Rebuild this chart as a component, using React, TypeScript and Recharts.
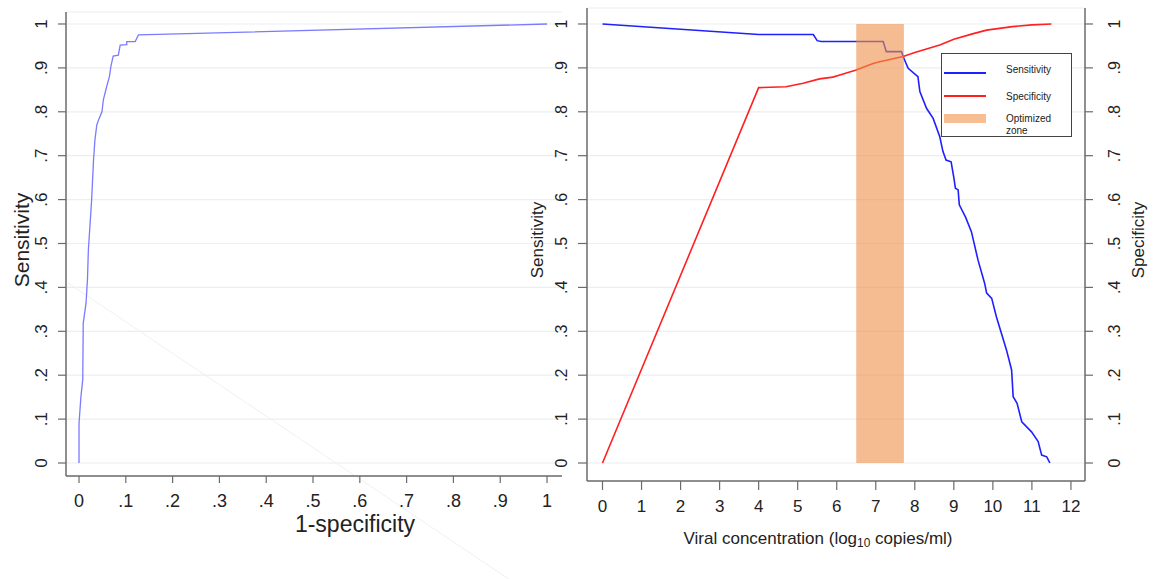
import React from 'react';
import {
  LineChart,
  Line,
  XAxis,
  YAxis,
  CartesianGrid,
  ReferenceArea,
  ReferenceLine,
  Legend,
} from 'recharts';

// ---------- data ----------
// Left panel: ROC curve (1-specificity vs sensitivity)
const rocFpr = [0, 0, 0.004, 0.008, 0.009, 0.015, 0.018, 0.02, 0.027, 0.031, 0.034, 0.038, 0.043, 0.049, 0.052, 0.059, 0.065, 0.068, 0.073, 0.084, 0.088, 0.102, 0.102, 0.12, 0.127, 1];
const rocTpr = [0, 0.09, 0.15, 0.19, 0.318, 0.364, 0.417, 0.485, 0.6, 0.69, 0.736, 0.77, 0.785, 0.8, 0.827, 0.857, 0.88, 0.903, 0.927, 0.929, 0.952, 0.953, 0.96, 0.96, 0.975, 1];

// Right panel: sensitivity and specificity by viral concentration
const sensConc = [0, 4, 5.4, 5.5, 5.6, 7.19, 7.27, 7.66, 7.7, 7.83, 8.08, 8.13, 8.3, 8.47, 8.64, 8.72, 8.8, 8.93, 9.0, 9.04, 9.11, 9.14, 9.3, 9.45, 9.62, 9.79, 9.84, 9.97, 10.09, 10.35, 10.48, 10.52, 10.62, 10.74, 10.99, 11.16, 11.25, 11.38, 11.46];
const sensValues = [1.0, 0.976, 0.976, 0.962, 0.96, 0.96, 0.937, 0.937, 0.926, 0.899, 0.88, 0.846, 0.808, 0.785, 0.743, 0.71, 0.69, 0.686, 0.65, 0.626, 0.622, 0.588, 0.56, 0.527, 0.462, 0.409, 0.387, 0.375, 0.333, 0.257, 0.212, 0.151, 0.136, 0.094, 0.071, 0.049, 0.018, 0.014, 0.0];

const specConc = [0, 4, 4.7, 5.14, 5.56, 5.9, 6.08, 6.5, 6.93, 7.1, 7.7, 8.0, 8.64, 9.0, 9.5, 9.84, 10.5, 11.0, 11.5];
const specValues = [0, 0.855, 0.857, 0.865, 0.875, 0.879, 0.884, 0.895, 0.91, 0.914, 0.926, 0.935, 0.952, 0.965, 0.978, 0.986, 0.994, 0.998, 1.0];

const zoneStart = 6.5;
const zoneEnd = 7.72;

const proportionTicks = [0, 0.1, 0.2, 0.3, 0.4, 0.5, 0.6, 0.7, 0.8, 0.9, 1];
const concTicks = [0, 1, 2, 3, 4, 5, 6, 7, 8, 9, 10, 11, 12];

const seriesNames = ['Sensitivity', 'Specificity', 'Optimized zone'];

// faint diagonal artefact line (data coords of left panel)
const diagX = [-0.0235, 0.94];
const diagY = [0.41, -0.28];

// ---------- derived tables ----------
const rocData = rocFpr.map((x, i) => ({ x, y: rocTpr[i] }));
const sensData = sensConc.map((x, i) => ({ x, y: sensValues[i] }));
const specData = specConc.map((x, i) => ({ x, y: specValues[i] }));

// ---------- styles ----------
const FONT = "'Liberation Sans', Arial, Helvetica, sans-serif";
const AXIS = '#6b6b6b';
const GRID = '#e8f0f0';
const TXT = '#222';
const ROC_COLOR = '#7b7bff';
const SENS_COLOR = '#2020ff';
const SPEC_COLOR = '#ff2020';
const ZONE_FILL = '#ef9049';
const ZONE_SWATCH = '#f6be92';

const fmtProp = (v: number) => {
  if (v === 0) return '0';
  if (v === 1) return '1';
  return '.' + Math.round(v * 10);
};

const makeRotTick = (dx: number, fs: number) => (props: any) => {
  const { x, y, payload } = props;
  const tx = x + dx;
  return (
    <text
      x={tx}
      y={y}
      transform={`rotate(-90 ${tx} ${y})`}
      textAnchor="middle"
      dominantBaseline="central"
      fontSize={fs}
      fill={TXT}
      fontFamily={FONT}
    >
      {fmtProp(payload.value)}
    </text>
  );
};

const makeXTick = (dy: number, fs: number, fmt: (v: number) => string) => (props: any) => {
  const { x, y, payload } = props;
  return (
    <text
      x={x}
      y={y + dy}
      textAnchor="middle"
      dominantBaseline="central"
      fontSize={fs}
      fill={TXT}
      fontFamily={FONT}
    >
      {fmt(payload.value)}
    </text>
  );
};

const AxisTitle = (p: any) => {
  const { tx, ty, txt, fs, rot } = p;
  return (
    <text
      x={tx}
      y={ty}
      transform={rot ? `rotate(-90 ${tx} ${ty})` : undefined}
      textAnchor="middle"
      dominantBaseline="central"
      fontSize={fs}
      fill={TXT}
      fontFamily={FONT}
    >
      {txt}
    </text>
  );
};

const ViralTitle = (p: any) => {
  const { tx, ty, fs } = p;
  return (
    <text x={tx} y={ty} textAnchor="middle" dominantBaseline="central" fontSize={fs} fill={TXT} fontFamily={FONT}>
      <tspan>Viral concentration  (log</tspan>
      <tspan fontSize={fs * 0.7} dy={5}>10</tspan>
      <tspan dy={-5}> copies/ml)</tspan>
    </text>
  );
};

const LegendBox = () => (
  <svg width={132} height={84} style={{ display: 'block', overflow: 'visible' }}>
    <rect x={0.5} y={0.5} width={130} height={83} fill="#fff" stroke="#444" strokeWidth={1} />
    <line x1={3} x2={45} y1={20} y2={20} stroke={SENS_COLOR} strokeWidth={2} />
    <text x={65} y={16} fontSize={10} fill={TXT} fontFamily={FONT} dominantBaseline="central">
      {seriesNames[0]}
    </text>
    <line x1={3} x2={45} y1={43} y2={43} stroke={SPEC_COLOR} strokeWidth={2} />
    <text x={65} y={43} fontSize={10} fill={TXT} fontFamily={FONT} dominantBaseline="central">
      {seriesNames[1]}
    </text>
    <rect x={3} y={61} width={42} height={9} fill={ZONE_SWATCH} />
    <text x={65} y={65} fontSize={10} fill={TXT} fontFamily={FONT} dominantBaseline="central">
      {seriesNames[2].split(' ')[0]}
    </text>
    <text x={65} y={77} fontSize={10} fill={TXT} fontFamily={FONT} dominantBaseline="central">
      {seriesNames[2].split(' ')[1]}
    </text>
  </svg>
);

export default function App() {
  return (
    <div style={{ position: 'absolute', left: 0, top: 0, width: 1153, height: 579, background: '#fff', overflow: 'hidden' }}>
      {/* Left panel: ROC */}
      <div style={{ position: 'absolute', left: 0, top: 0 }}>
        <LineChart width={580} height={579} data={rocData} margin={{ top: 12, right: 18, bottom: 43, left: 6 }}>
          <CartesianGrid horizontal vertical={false} stroke={GRID} strokeWidth={1.2} />
          <XAxis
            type="number"
            dataKey="x"
            domain={[-0.0278, 1.032]}
            allowDataOverflow
            ticks={proportionTicks}
            interval={0}
            height={60}
            tickSize={7}
            axisLine={{ stroke: AXIS, strokeWidth: 1.5 }}
            tickLine={{ stroke: AXIS, strokeWidth: 1.2 }}
            tick={makeXTick(16, 18, fmtProp)}
            label={<AxisTitle tx={355} ty={524} txt="1-specificity" fs={23} />}
          />
          <YAxis
            type="number"
            domain={[-0.0296, 1.0273]}
            allowDataOverflow
            ticks={proportionTicks}
            interval={0}
            width={60}
            tickSize={8}
            axisLine={{ stroke: AXIS, strokeWidth: 1.5 }}
            tickLine={{ stroke: AXIS, strokeWidth: 1.2 }}
            tick={makeRotTick(-14, 17)}
            label={<AxisTitle tx={21} ty={240} txt="Sensitivity" fs={21} rot />}
          />
          <ReferenceLine
            segment={[
              { x: diagX[0], y: diagY[0] },
              { x: diagX[1], y: diagY[1] },
            ]}
            ifOverflow="visible"
            stroke="#f0f0f0"
            strokeWidth={1}
          />
          <Line
            dataKey="y"
            type="linear"
            stroke={ROC_COLOR}
            strokeWidth={1.3}
            dot={false}
            activeDot={false}
            isAnimationActive={false}
          />
        </LineChart>
      </div>

      {/* Right panel: sensitivity / specificity vs viral load */}
      <div style={{ position: 'absolute', left: 500, top: 0 }}>
        <LineChart width={653} height={579} margin={{ top: 8, right: 8, bottom: 38, left: 7 }}>
          <CartesianGrid horizontal vertical={false} stroke={GRID} strokeWidth={1.2} />
          <XAxis
            type="number"
            dataKey="x"
            domain={[-0.397, 12.36]}
            allowDataOverflow
            ticks={concTicks}
            interval={0}
            height={60}
            tickSize={9}
            axisLine={{ stroke: AXIS, strokeWidth: 1.5 }}
            tickLine={{ stroke: AXIS, strokeWidth: 1.2 }}
            tick={makeXTick(14, 17, (v) => String(v))}
            label={<ViralTitle tx={318} ty={538} fs={17} />}
          />
          <YAxis
            type="number"
            domain={[-0.041, 1.0364]}
            allowDataOverflow
            ticks={proportionTicks}
            interval={0}
            width={80}
            tickSize={9}
            axisLine={{ stroke: AXIS, strokeWidth: 1.5 }}
            tickLine={{ stroke: AXIS, strokeWidth: 1.2 }}
            tick={makeRotTick(-14, 16)}
            label={<AxisTitle tx={37} ty={240} txt="Sensitivity" fs={17} rot />}
          />
          <YAxis
            yAxisId="r"
            orientation="right"
            type="number"
            domain={[-0.041, 1.0364]}
            allowDataOverflow
            ticks={proportionTicks}
            interval={0}
            width={60}
            tickSize={8}
            axisLine={{ stroke: AXIS, strokeWidth: 1.5 }}
            tickLine={{ stroke: AXIS, strokeWidth: 1.2 }}
            tick={makeRotTick(20, 16)}
            label={<AxisTitle tx={638} ty={240} txt="Specificity" fs={17} rot />}
          />
          <Line
            data={sensData}
            dataKey="y"
            name={seriesNames[0]}
            type="linear"
            stroke={SENS_COLOR}
            strokeWidth={1.6}
            dot={false}
            activeDot={false}
            isAnimationActive={false}
          />
          <Line
            data={specData}
            dataKey="y"
            yAxisId="r"
            name={seriesNames[1]}
            type="linear"
            stroke={SPEC_COLOR}
            strokeWidth={1.6}
            dot={false}
            activeDot={false}
            isAnimationActive={false}
          />
          <ReferenceArea
            x1={zoneStart}
            x2={zoneEnd}
            y1={0}
            y2={1}
            fill={ZONE_FILL}
            fillOpacity={0.6}
            stroke="none"
            ifOverflow="visible"
            zIndex={1000}
          />
          <Legend
            layout="vertical"
            align="center"
            verticalAlign="middle"
            content={<LegendBox />}
            wrapperStyle={{ position: 'absolute', left: 441, top: 53, width: 132, height: 84 }}
          />
        </LineChart>
      </div>
    </div>
  );
}
